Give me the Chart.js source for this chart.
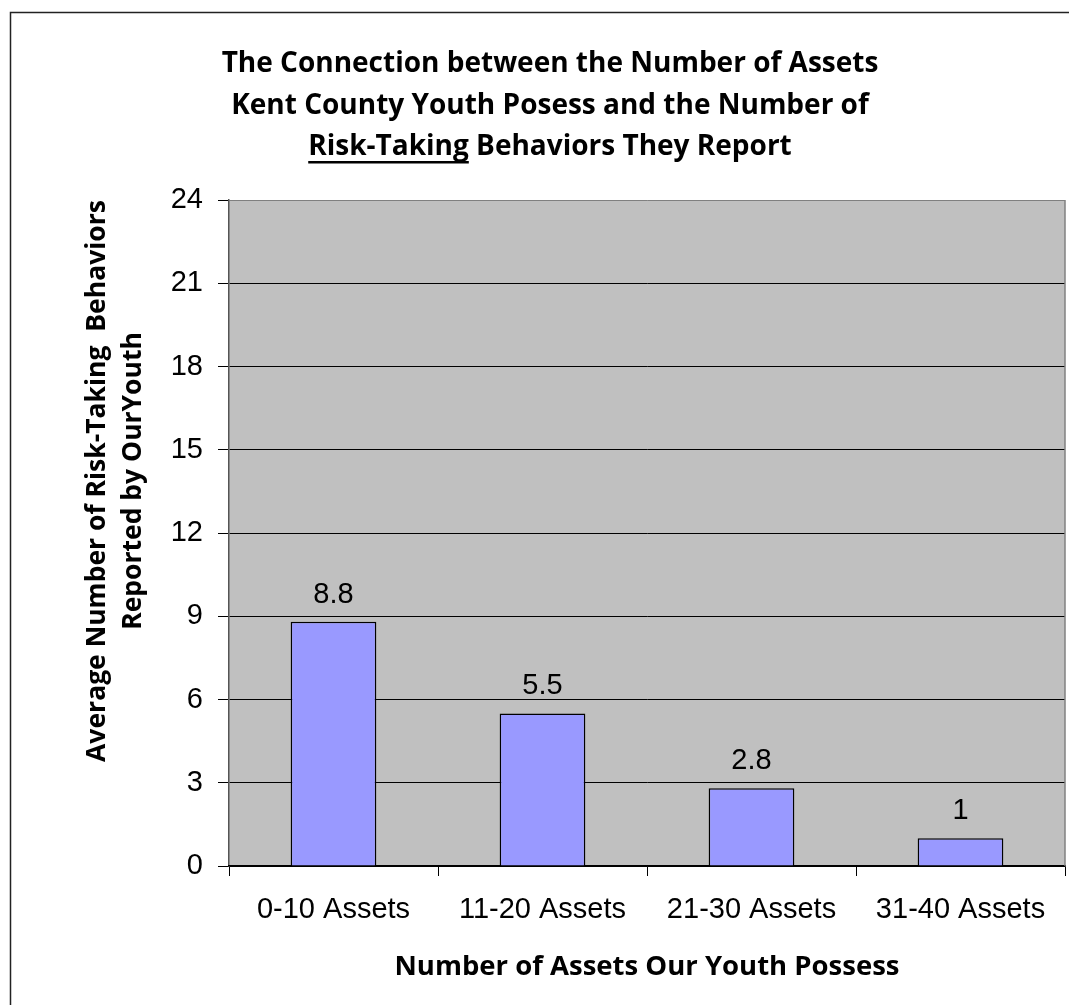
<!DOCTYPE html>
<html>
<head>
<meta charset="utf-8">
<script src="https://cdn.jsdelivr.net/npm/chart.js@4.4.1/dist/chart.umd.min.js"></script>
<style>
  html, body { margin: 0; padding: 0; background: #fff; }
  #wrap { width: 1069px; height: 1005px; }
</style>
</head>
<body>
<div id="wrap"><canvas id="chart1"></canvas></div>
<script>
const categorias = ['0-10 Assets', '11-20 Assets', '21-30 Assets', '31-40 Assets'];
const valores = [8.8, 5.5, 2.8, 1];
const rotulos = ['8.8', '5.5', '2.8', '1'];

const tituloLinhas = [
  'The Connection between the Number of Assets',
  'Kent County Youth Posess and the Number of',
  'Risk-Taking Behaviors They Report'
];
const tituloSublinhado = 'Risk-Taking';
const tituloY = ['Average Number of Risk-Taking  Behaviors', 'Reported by OurYouth'];
const tituloX = 'Number of Assets Our Youth Possess';

const fonteTexto = '"Open Sans", Lato, sans-serif';
const fonteEixo = '"Liberation Sans", Arial, sans-serif';

// fundo cinza, moldura, titulos e valores
const extras = {
  id: 'extras',
  beforeDraw(chart) {
    const c = chart.ctx, a = chart.chartArea;
    c.save();
    c.fillStyle = '#ffffff';
    c.fillRect(0, 0, chart.width, chart.height);
    c.fillStyle = '#c0c0c0';
    c.fillRect(a.left, a.top, a.right - a.left, a.bottom - a.top);
    c.restore();
  },
  afterDraw(chart) {
    const c = chart.ctx, a = chart.chartArea;
    c.save();
    // borda direita do grafico
    c.strokeStyle = '#808080';
    c.lineWidth = 1.5;
    c.beginPath();
    c.moveTo(a.right, a.top);
    c.lineTo(a.right, a.bottom);
    c.stroke();
    // moldura externa
    c.strokeStyle = '#222';
    c.lineWidth = 1.5;
    c.beginPath();
    c.moveTo(10.5, chart.height);
    c.lineTo(10.5, 12.5);
    c.lineTo(chart.width, 12.5);
    c.stroke();

    // titulo
    c.fillStyle = '#000';
    c.font = 'bold 28px ' + fonteTexto;
    c.textBaseline = 'alphabetic';
    c.textAlign = 'left';
    const cx = 550;
    const bases = [72, 114, 155];
    tituloLinhas.forEach((linha, i) => {
      const w = c.measureText(linha).width;
      const x0 = cx - w / 2;
      c.fillText(linha, x0, bases[i]);
      if (linha.startsWith(tituloSublinhado)) {
        const wu = c.measureText(tituloSublinhado).width;
        c.fillRect(x0, bases[i] + 6, wu, 2.5);
      }
    });

    // titulo eixo x
    c.font = 'bold 27.5px ' + fonteTexto;
    c.textAlign = 'center';
    c.textBaseline = 'middle';
    c.fillText(tituloX, (a.left + a.right) / 2, 967);

    // titulo eixo y
    c.font = 'bold 26.5px ' + fonteTexto;
    [97, 133].forEach((x, i) => {
      c.save();
      c.translate(x, 481);
      c.rotate(-Math.PI / 2);
      c.fillText(tituloY[i], 0, 0);
      c.restore();
    });

    // valores acima das barras
    c.font = '29px ' + fonteEixo;
    c.textBaseline = 'alphabetic';
    chart.getDatasetMeta(0).data.forEach((bar, i) => {
      c.fillText(rotulos[i], bar.x, bar.y - 19);
    });
    c.restore();
  }
};

const ctx = document.getElementById('chart1').getContext('2d');

new Chart(ctx, {
  type: 'bar',
  data: {
    labels: categorias,
    datasets: [{
      label: 'Media',
      data: valores,
      backgroundColor: '#9999ff',
      borderColor: '#000',
      borderWidth: 1.5,
      barPercentage: 0.41,
      categoryPercentage: 1
    }]
  },
  options: {
    responsive: true,
    maintainAspectRatio: false,
    animation: false,
    layout: {
      padding: { top: 200, right: 4, left: 0, bottom: 0 }
    },
    plugins: {
      legend: { display: false },
      tooltip: { enabled: false },
      title: { display: false }
    },
    scales: {
      y: {
        min: 0,
        max: 24,
        afterFit(scale) { scale.width = 229; },
        ticks: {
          stepSize: 3,
          color: '#000',
          padding: 15,
          font: { family: fonteEixo, size: 29 }
        },
        grid: {
          color: (c) => c.tick && c.tick.value === 24 ? '#808080' : '#000',
          lineWidth: 1,
          tickLength: 11,
          tickColor: '#000'
        },
        border: { color: '#555', width: 1.5 }
      },
      x: {
        afterFit(scale) { scale.height = 139; },
        ticks: {
          color: '#000',
          padding: 17,
          font: { family: fonteEixo, size: 29 }
        },
        grid: {
          offset: true,
          drawOnChartArea: false,
          tickLength: 10,
          tickColor: '#000'
        },
        border: { color: '#000', width: 1.5 }
      }
    }
  },
  plugins: [extras]
});
</script>
</body>
</html>
